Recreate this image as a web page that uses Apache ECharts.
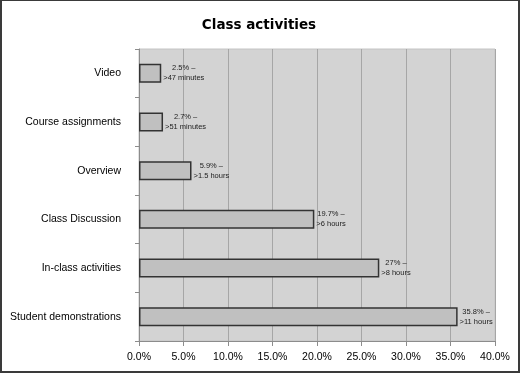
<!DOCTYPE html>
<html>
<head>
<meta charset="utf-8">
<script src="https://cdn.jsdelivr.net/npm/echarts@6/dist/echarts.min.js"></script>
<style>
  html, body { margin: 0; padding: 0; background: #fff; }
  #main { width: 520px; height: 373px; box-sizing: border-box; border: 2px solid #3a3a3a; border-top-width: 1px; }
</style>
</head>
<body>
<div id="main"></div>
<script>
  // activities, top to bottom
  var categories = ['Video', 'Course assignments', 'Overview', 'Class Discussion', 'In-class activities', 'Student demonstrations'];
  var percents = [2.5, 2.7, 5.9, 19.7, 27, 35.8];
  var timeNotes = ['>47 minutes', '>51 minutes', '>1.5 hours', '>6 hours', '>8 hours', '>11 hours'];
  var percentText = ['2.5%', '2.7%', '5.9%', '19.7%', '27%', '35.8%'];

  var myChart = echarts.init(document.getElementById('main'));

  myChart.setOption({
    backgroundColor: '#fff',
    animation: false,
    title: {
      text: 'Class activities',
      left: 252,
      top: 12,
      textAlign: 'center',
      textStyle: {
        fontFamily: 'DejaVu Sans',
        fontWeight: 'bold',
        fontSize: 13.5,
        color: '#000'
      }
    },
    grid: {
      left: 137,
      top: 48,
      width: 356,
      height: 292,
      outerBoundsMode: 'none',
      containLabel: false,
      show: true,
      backgroundColor: '#d3d3d3',
      borderColor: '#c4c4c4',
      borderWidth: 1
    },
    xAxis: {
      type: 'value',
      min: 0,
      max: 40,
      interval: 5,
      axisLine: { show: true, lineStyle: { color: '#8c8c8c' } },
      axisTick: { show: true, length: 5, lineStyle: { color: '#8c8c8c' } },
      splitLine: { show: true, lineStyle: { color: '#a6a6a6', width: 1 } },
      axisLabel: {
        margin: 11,
        fontFamily: 'Liberation Sans',
        fontSize: 10.5,
        color: '#000',
        formatter: function (v) { return v.toFixed(1) + '%'; }
      }
    },
    yAxis: {
      type: 'category',
      inverse: true,
      data: categories,
      axisLine: { show: true, lineStyle: { color: '#8c8c8c' } },
      axisTick: { show: true, length: 4, lineStyle: { color: '#8c8c8c' } },
      axisLabel: {
        margin: 18,
        fontFamily: 'Liberation Sans',
        fontSize: 10.5,
        color: '#000'
      }
    },
    series: [{
      type: 'bar',
      data: percents,
      barWidth: 19,
      itemStyle: {
        color: '#c0c0c0',
        borderColor: '#333',
        borderWidth: 1.5
      },
      label: {
        show: true,
        position: 'right',
        distance: 2,
        formatter: function (p) {
          return '{a|' + percentText[p.dataIndex] + ' –}\n{a|' + timeNotes[p.dataIndex] + '}';
        },
        rich: {
          a: {
            align: 'center',
            fontFamily: 'Liberation Sans',
            fontSize: 7.5,
            lineHeight: 10,
            color: '#222'
          }
        }
      }
    }]
  });
</script>
</body>
</html>
